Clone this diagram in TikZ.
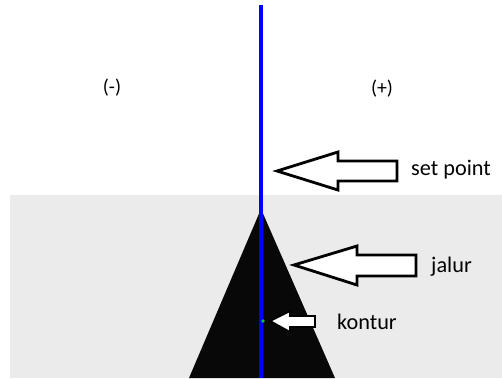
\documentclass[tikz,border=0pt]{standalone}
\usepackage{fontspec}
\setmainfont{Carlito}
\usetikzlibrary{positioning}
\definecolor{bggray}{RGB}{235,235,235}
\definecolor{dotgreen}{RGB}{20,200,40}
\tikzset{
    label/.style={anchor=west, inner sep=0pt, font=\fontsize{19}{22}\selectfont},
    sign/.style={inner sep=0pt, font=\fontsize{17}{20}\selectfont},
    blockarrow/.style={draw=black, line width=2.4pt, fill=white, line join=miter},
    smallarrow/.style={draw=black, line width=1.6pt, fill=white, line join=miter}
}
\begin{document}
\begin{tikzpicture}[x=0.03cm, y=-0.03cm]
    \useasboundingbox (0,0) rectangle (502,378);
    % background
    \fill[bggray] (10,195) rectangle (502,378);
    % contour of the track
    \fill[black!97] (189,378) -- (261,209) -- (335,378) -- cycle;
    % set point line
    \draw[blue, line width=2.8pt] (261,5) -- (261,378);
    \fill[dotgreen] (263,321) circle (1.8);

    \node (minus) [sign] at (112,88) {(-)};
    \node (plus) [sign] at (382,89) {(+)};

    % arrows pointing at the picture
    \draw[blockarrow] (277,171) -- (338,152) -- (338,161) -- (397,161)
        -- (397,181) -- (338,181) -- (338,190) -- cycle;
    \draw[blockarrow] (294,265) -- (357,246) -- (357,255) -- (416,255)
        -- (416,276) -- (357,276) -- (357,285) -- cycle;
    \draw[smallarrow] (270,321) -- (290,311) -- (290,316) -- (315,316)
        -- (315,327) -- (290,327) -- (290,332) -- cycle;

    \node (setpoint) [label] at (411,170) {set point};
    \node (jalur) [label] at (431,267) {jalur};
    \node (kontur) [label] at (337,322) {kontur};
\end{tikzpicture}
\end{document}
